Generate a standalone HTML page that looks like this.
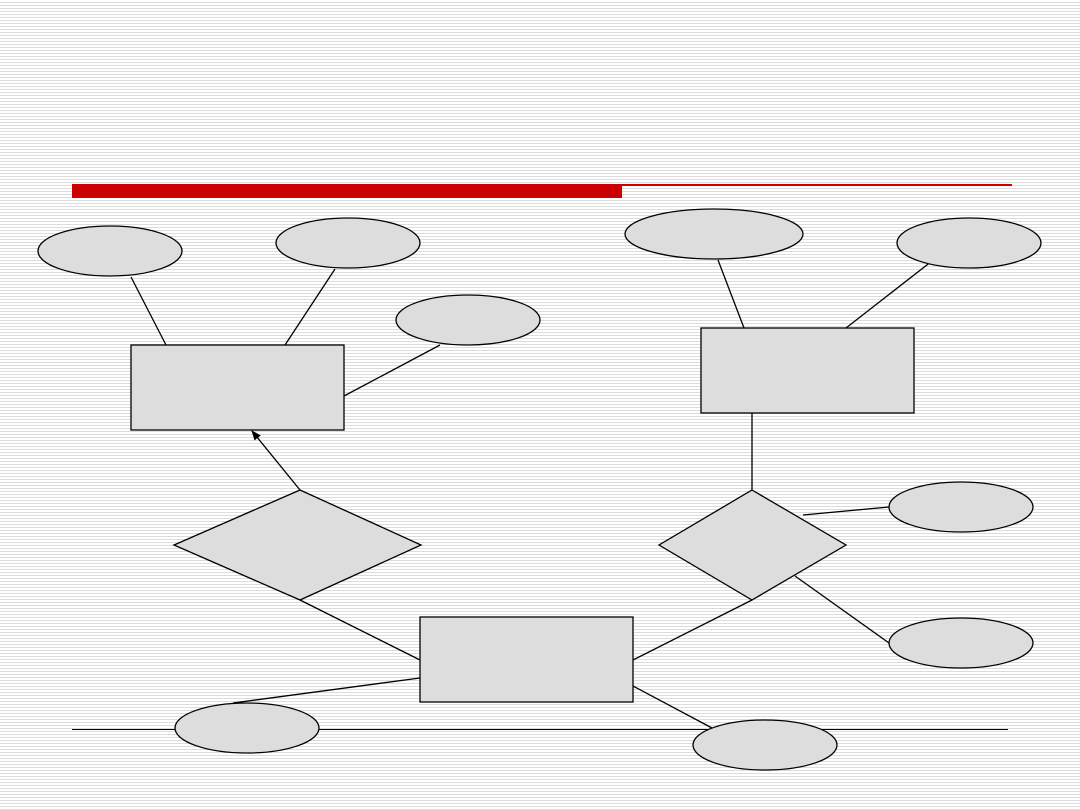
<!DOCTYPE html>
<html><head><style>
html,body{margin:0;padding:0}
body{width:1080px;height:810px;overflow:hidden;background:#fff repeating-linear-gradient(to bottom,#fff 0,#fff 2px,#dcdcdc 2px,#dcdcdc 3px)}
svg{position:absolute;left:0;top:0}
</style></head><body>
<svg width="1080" height="810" viewBox="0 0 1080 810">
<defs><marker id="a" markerWidth="10" markerHeight="10" refX="9" refY="5" orient="auto" markerUnits="userSpaceOnUse"><path d="M0,1 L10,5 L0,9 z" fill="#000"/></marker></defs>
<rect x="72" y="184" width="550" height="14" fill="#cc0000"/>
<rect x="622" y="184" width="390" height="2" fill="#cc0000"/>
<line x1="72" y1="729.5" x2="1008" y2="729.5" stroke="#000" stroke-width="1"/>
<g stroke="#000" stroke-width="1.3" fill="none">
<line x1="131" y1="277" x2="166" y2="345"/>
<line x1="335" y1="269" x2="285" y2="345"/>
<line x1="344" y1="396" x2="440" y2="345"/>
<line x1="718" y1="260" x2="744" y2="328"/>
<line x1="932" y1="261" x2="846" y2="328"/>
<line x1="752" y1="413" x2="752" y2="490"/>
<line x1="803" y1="515" x2="889" y2="507"/>
<line x1="795" y1="576" x2="889" y2="643"/>
<line x1="300" y1="490" x2="252" y2="431" marker-end="url(#a)"/>
<line x1="300" y1="600" x2="420" y2="660"/>
<line x1="633" y1="660" x2="752" y2="600"/>
<line x1="420" y1="678" x2="233" y2="703"/>
<line x1="633" y1="686" x2="712" y2="728"/>
</g>
<g stroke="#000" stroke-width="1.3" fill="#dddddd">
<rect x="131" y="345" width="213" height="85"/>
<rect x="701" y="328" width="213" height="85"/>
<rect x="420" y="617" width="213" height="85"/>
<polygon points="300,490 421,545 300,600 174,545"/>
<polygon points="752,490 846,545 752,600 659,545"/>
<ellipse cx="110" cy="251" rx="72" ry="25"/>
<ellipse cx="348" cy="243" rx="72" ry="25"/>
<ellipse cx="468" cy="320" rx="72" ry="25"/>
<ellipse cx="714" cy="234" rx="89" ry="25"/>
<ellipse cx="969" cy="243" rx="72" ry="25"/>
<ellipse cx="961" cy="507" rx="72" ry="25"/>
<ellipse cx="961" cy="643" rx="72" ry="25"/>
<ellipse cx="247" cy="728" rx="72" ry="25"/>
<ellipse cx="765" cy="745" rx="72" ry="25"/>
</g>
</svg>
</body></html>
